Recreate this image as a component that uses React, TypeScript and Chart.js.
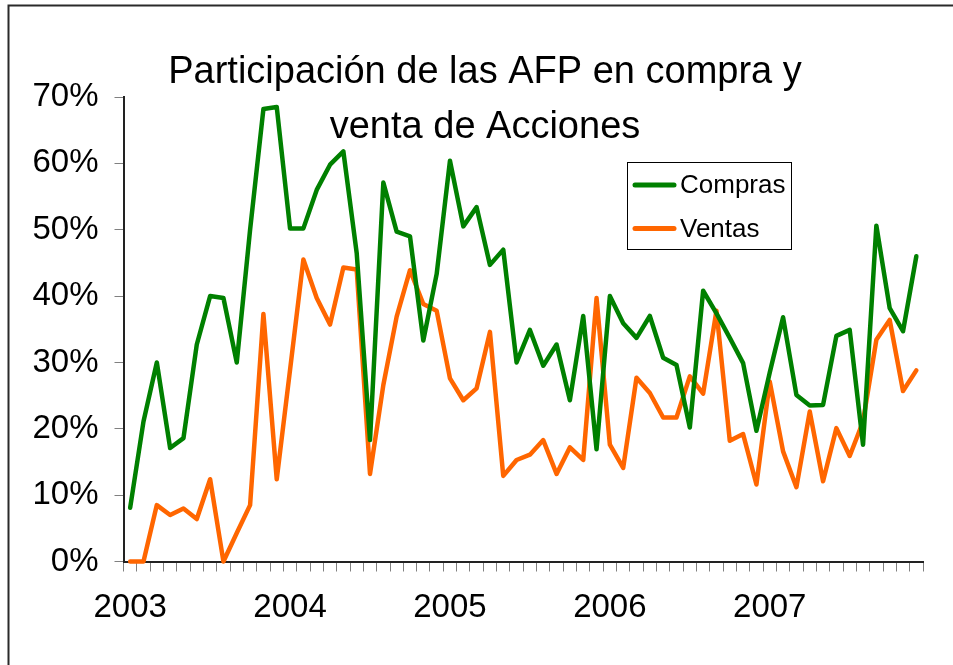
import { useEffect, useRef } from 'react';
import { Chart, registerables } from 'chart.js';

Chart.register(...registerables);

const years = ['2003', '2004', '2005', '2006', '2007'];
const monthNames = ['Ene', 'Feb', 'Mar', 'Abr', 'May', 'Jun', 'Jul', 'Ago', 'Sep', 'Oct', 'Nov', 'Dic'];
const categories = years.flatMap((y) => monthNames.map((m) => `${m} ${y}`));

const compras = [
  8.1, 21.1, 30.0, 17.1, 18.6, 32.7, 40.0, 39.7, 30.0, 50.0,
  68.2, 68.5, 50.2, 50.2, 56.0, 59.8, 61.8, 46.5, 18.3, 57.1,
  49.7, 49.0, 33.3, 43.3, 60.4, 50.5, 53.4, 44.7, 47.0, 30.0,
  34.9, 29.5, 32.7, 24.3, 37.0, 16.9, 40.0, 35.9, 33.7, 37.0,
  30.7, 29.6, 20.2, 40.8, 37.4, 33.7, 29.9, 19.7, 28.5, 36.8,
  25.1, 23.5, 23.6, 34.0, 34.9, 17.6, 50.6, 38.2, 34.7, 46.0,
];

const ventas = [
  0, 0, 8.5, 7.0, 8.0, 6.4, 12.4, 0, 4.3, 8.5,
  37.3, 12.4, 28.9, 45.5, 39.7, 35.7, 44.3, 44.0, 13.2, 26.6,
  36.9, 43.9, 38.8, 37.8, 27.6, 24.3, 26.1, 34.6, 12.9, 15.3,
  16.1, 18.3, 13.2, 17.2, 15.3, 39.7, 17.6, 14.1, 27.7, 25.4,
  21.7, 21.7, 27.9, 25.3, 37.8, 18.2, 19.2, 11.6, 27.1, 16.6,
  11.2, 22.6, 12.1, 20.1, 15.9, 21.1, 33.4, 36.4, 25.7, 28.8,
];

const seriesNames = ['Compras', 'Ventas'];
const seriesColors = ['#008000', '#FF6600'];
const titleLines = ['Participación de las AFP en compra y', 'venta de Acciones'];
const yMin = 0;
const yMax = 70;
const yStep = 10;

const FONT = '"Liberation Sans", Arial, Helvetica, sans-serif';

const framePlugin = {
  id: 'frame',
  beforeDraw(chart: any) {
    const ctx = chart.ctx;
    ctx.save();
    ctx.fillStyle = '#ffffff';
    ctx.fillRect(0, 0, chart.width, chart.height);
    ctx.strokeStyle = '#2a2a2a';
    ctx.lineWidth = 2;
    ctx.beginPath();
    ctx.moveTo(8.5, chart.height);
    ctx.lineTo(8.5, 5.5);
    ctx.lineTo(chart.width, 5.5);
    ctx.stroke();
    ctx.restore();
  },
};

const titlePlugin = {
  id: 'overlayTitle',
  afterDraw(chart: any) {
    const ctx = chart.ctx;
    ctx.save();
    ctx.fillStyle = '#000000';
    ctx.font = `38px ${FONT}`;
    ctx.textAlign = 'center';
    ctx.textBaseline = 'alphabetic';
    ctx.fillText(titleLines[0], 485, 83);
    ctx.fillText(titleLines[1], 485, 138);
    ctx.restore();
  },
};

const legendPlugin = {
  id: 'boxLegend',
  afterDraw(chart: any) {
    const ctx = chart.ctx;
    const x = 627.5;
    const y = 162.5;
    const w = 164;
    const h = 87;
    ctx.save();
    ctx.fillStyle = '#ffffff';
    ctx.fillRect(x, y, w, h);
    ctx.strokeStyle = '#000000';
    ctx.lineWidth = 1;
    ctx.strokeRect(x, y, w, h);
    chart.data.datasets.forEach((ds: any, i: number) => {
      const cy = 185 + i * 43.5;
      ctx.strokeStyle = ds.borderColor;
      ctx.lineWidth = 5;
      ctx.lineCap = 'round';
      ctx.beginPath();
      ctx.moveTo(635, cy);
      ctx.lineTo(674, cy);
      ctx.stroke();
      ctx.fillStyle = '#000000';
      ctx.font = `26px ${FONT}`;
      ctx.textAlign = 'left';
      ctx.textBaseline = 'middle';
      ctx.fillText(ds.label, 680, cy + 1);
    });
    ctx.restore();
  },
};

export default function App() {
  const ref = useRef<HTMLCanvasElement | null>(null);

  useEffect(() => {
    if (!ref.current) return;
    const chart = new Chart(ref.current, {
      type: 'line',
      data: {
        labels: categories,
        datasets: [
          {
            label: seriesNames[0],
            data: compras,
            borderColor: seriesColors[0],
            backgroundColor: seriesColors[0],
            borderWidth: 4.5,
            pointRadius: 0,
            tension: 0,
            borderJoinStyle: 'round',
            borderCapStyle: 'round',
            clip: 6,
          },
          {
            label: seriesNames[1],
            data: ventas,
            borderColor: seriesColors[1],
            backgroundColor: seriesColors[1],
            borderWidth: 4.5,
            pointRadius: 0,
            tension: 0,
            borderJoinStyle: 'round',
            borderCapStyle: 'round',
            clip: 6,
          },
        ],
      },
      options: {
        responsive: false,
        animation: false,
        events: [],
        layout: { padding: { top: 97, right: 30, left: 0, bottom: 0 } },
        plugins: {
          legend: { display: false },
          title: { display: false },
          tooltip: { enabled: false },
        },
        scales: {
          x: {
            type: 'category',
            offset: true,
            afterFit: (s: any) => {
              s.height = 103.5;
            },
            grid: {
              offset: true,
              drawOnChartArea: false,
              drawTicks: true,
              tickLength: 10,
              color: '#808080',
              lineWidth: 1,
            },
            border: { display: true, color: '#222222', width: 2 },
            ticks: {
              autoSkip: false,
              maxRotation: 0,
              minRotation: 0,
              padding: 17,
              color: '#000000',
              font: { size: 33, family: FONT },
              callback: (_v: any, i: number) => (i % 12 === 0 ? years[i / 12] : ''),
            },
          },
          y: {
            min: yMin,
            max: yMax,
            afterFit: (s: any) => {
              s.width = 123.5;
            },
            grid: {
              drawOnChartArea: false,
              drawTicks: true,
              tickLength: 9,
              color: '#808080',
              lineWidth: 1,
            },
            border: { display: true, color: '#222222', width: 2 },
            ticks: {
              stepSize: yStep,
              padding: 16,
              color: '#000000',
              font: { size: 33, family: FONT },
              callback: (v: any) => `${v}%`,
            },
          },
        },
      },
      plugins: [framePlugin, titlePlugin, legendPlugin],
    } as any);
    return () => chart.destroy();
  }, []);

  return (
    <div style={{ position: 'absolute', left: 0, top: 0, width: 953, height: 665, background: '#fff' }}>
      <canvas ref={ref} width={953} height={665} style={{ display: 'block', width: 953, height: 665 }} />
    </div>
  );
}
